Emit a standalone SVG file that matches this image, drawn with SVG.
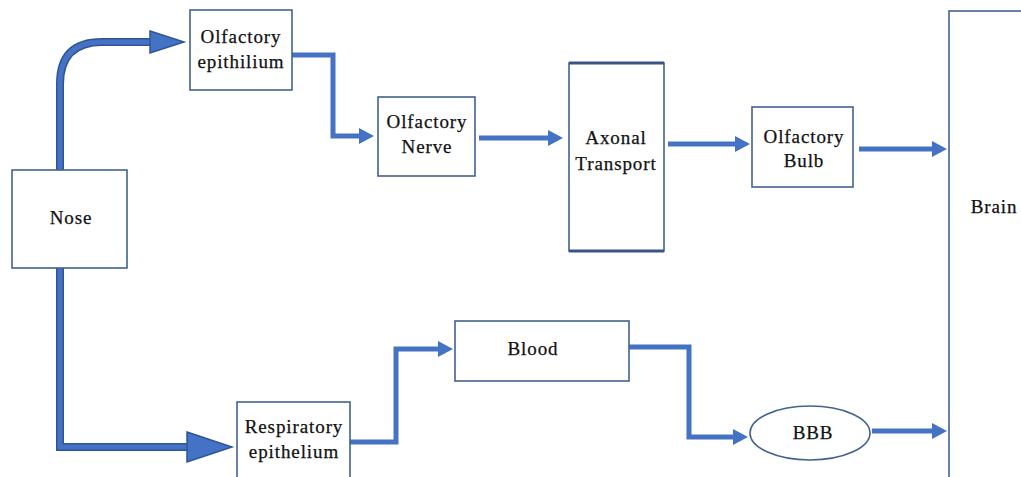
<svg xmlns="http://www.w3.org/2000/svg" width="1021" height="477" viewBox="0 0 1021 477">
<style>
.box{fill:#fff;stroke:#44618F;stroke-width:1.6}
.t{font-family:'Liberation Serif','Times New Roman',serif;font-size:19px;letter-spacing:0.9px;fill:#111;stroke:#111;stroke-width:0.25;text-anchor:middle}
.c{fill:none;stroke:#4472C4;stroke-width:5}
.thickO{fill:none;stroke:#2F5597;stroke-width:8}
.thickI{fill:none;stroke:#4472C4;stroke-width:5}
.hdO{fill:#4472C4;stroke:#2F5597;stroke-width:1.5}
</style>
<defs>
<marker id="ah" markerUnits="userSpaceOnUse" markerWidth="16" markerHeight="16" refX="0" refY="8" orient="auto">
<path d="M0,0 L15,8 L0,16 Z" fill="#4472C4"/>
</marker>
</defs>
<rect width="1021" height="477" fill="#fff"/>
<g id="connectors">
<path class="thickO" d="M60,170 V84 Q60,42 102,42 H151"/>
<path class="thickI" d="M60,170 V84 Q60,42 102,42 H151"/>
<path class="hdO" d="M150,31 L184,42 L150,53 Z"/>
<path class="thickO" d="M60,268 V447 H188"/>
<path class="thickI" d="M60,268 V447 H188"/>
<path class="hdO" d="M187,432 L232,447 L187,462 Z"/>
<path class="c" d="M292,55 H333 V136 H359" marker-end="url(#ah)"/>
<path class="c" d="M479,138 H548" marker-end="url(#ah)"/>
<path class="c" d="M668,144 H735" marker-end="url(#ah)"/>
<path class="c" d="M859,149 H932" marker-end="url(#ah)"/>
<path class="c" d="M350,442 H396 V349 H438" marker-end="url(#ah)"/>
<path class="c" d="M629,347 H689 V437 H733" marker-end="url(#ah)"/>
<path class="c" d="M872,431 H932" marker-end="url(#ah)"/>
</g>
<g id="nose">
<rect class="box" x="12" y="170" width="115" height="98"/>
<text class="t" x="71" y="224">Nose</text>
</g>
<g id="olfactory-epithilium">
<rect class="box" x="190" y="10" width="102" height="80"/>
<text class="t" x="241" y="43">Olfactory</text>
<text class="t" x="241" y="68">epithilium</text>
</g>
<g id="olfactory-nerve">
<rect class="box" x="378" y="97" width="97" height="79"/>
<text class="t" x="427" y="128">Olfactory</text>
<text class="t" x="427" y="153">Nerve</text>
</g>
<g id="axonal-transport">
<rect class="box" x="569" y="63" width="95" height="188"/>
<line x1="569" y1="63" x2="664" y2="63" stroke="#3A5585" stroke-width="3"/>
<line x1="569" y1="251" x2="664" y2="251" stroke="#3A5585" stroke-width="3"/>
<text class="t" x="616" y="144">Axonal</text>
<text class="t" x="616" y="170">Transport</text>
</g>
<g id="olfactory-bulb">
<rect class="box" x="752" y="107" width="101" height="80"/>
<text class="t" x="804" y="143">Olfactory</text>
<text class="t" x="804" y="167">Bulb</text>
</g>
<g id="brain">
<rect class="box" x="949" y="11" width="90" height="480"/>
<text class="t" x="994" y="213">Brain</text>
</g>
<g id="respiratory-epithelium">
<rect class="box" x="237" y="402" width="113" height="90"/>
<text class="t" x="294" y="433">Respiratory</text>
<text class="t" x="294" y="458">epithelium</text>
</g>
<g id="blood">
<rect class="box" x="455" y="321" width="174" height="60"/>
<text class="t" x="533" y="355">Blood</text>
</g>
<g id="bbb">
<ellipse class="box" cx="810" cy="433" rx="60" ry="27"/>
<text class="t" x="813" y="439">BBB</text>
</g>
</svg>
